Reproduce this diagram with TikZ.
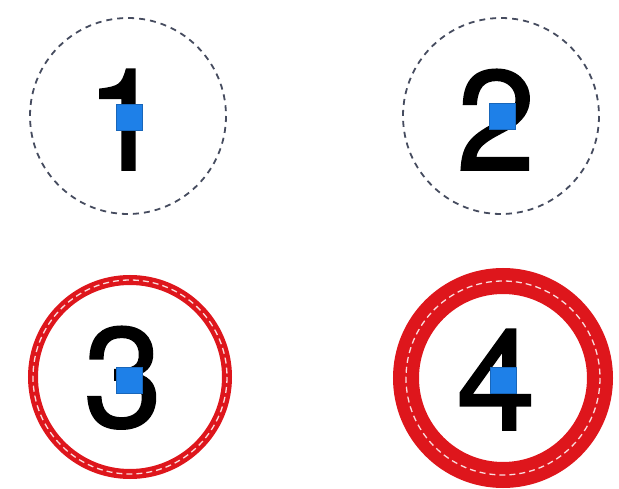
\documentclass[tikz,border=0pt]{standalone}
\usepackage{fontspec}
\setmainfont{TeX Gyre Heros}
\newfontfamily\digitfont[FakeBold=1.2]{TeX Gyre Heros}
\definecolor{ringred}{RGB}{222,22,28}
\definecolor{dashgray}{RGB}{70,76,95}
\definecolor{sqblue}{RGB}{30,128,232}
\begin{document}
\begin{tikzpicture}[x=1pt,y=-1pt,
  dashring/.style={draw=dashgray,line width=1.8pt,dash pattern=on 6pt off 5pt,fill=none},
  redring/.style={draw=ringred,fill=none},
  whitedash/.style={draw=white!85!ringred,line width=1.3pt,dash pattern=on 6pt off 4pt},
  digit/.style={anchor=base,inner sep=0pt,font=\digitfont\fontsize{142}{142}\selectfont},
  sq/.style={fill=sqblue,draw=sqblue!80!black,line width=0.6pt,minimum size=26pt,inner sep=0pt}]
\useasboundingbox (0,0) rectangle (619,489);
% circle 1
\draw[dashring] (128,116) circle (98);
\node[digit] (d1) at (125,170) {1};
\node[sq] (s1) at (129,117) {};
% circle 2
\draw[dashring] (501,116) circle (98);
\node[digit] (d2) at (496,170) {2};
\node[sq] (s2) at (502,116) {};
% circle 3
\draw[redring,line width=10pt] (130,377) circle (97);
\draw[whitedash] (130,377) circle (97);
\node[digit] (d3) at (123,427) {3};
\node[sq] (s3) at (129,380) {};
% circle 4
\draw[redring,line width=26pt] (503,378) circle (97);
\draw[whitedash] (503,378) circle (97);
\node[digit] (d4) at (496,430) {4};
\node[sq] (s4) at (503,380) {};
\end{tikzpicture}
\end{document}
